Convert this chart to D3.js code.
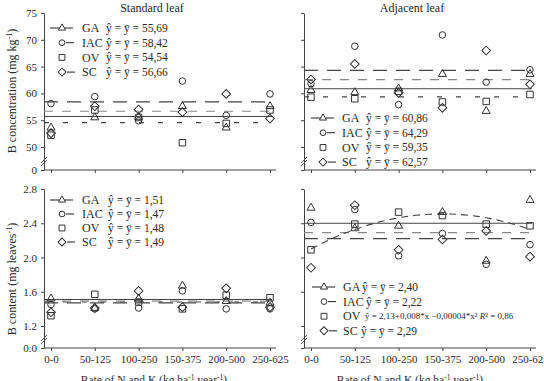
<!DOCTYPE html>
<html>
<head>
<meta charset="utf-8">
<script src="https://cdn.jsdelivr.net/npm/d3@7"></script>
<style>
  body { margin: 0; background: #fff; }
  svg { display: block; font-family: "Liberation Serif", "Times New Roman", serif; }
</style>
</head>
<body>
<div id="chart"></div>
<script>
// Rates of N and K (kg ha-1 year-1)
const categories = ["0-0", "50-125", "100-250", "150-375", "200-500", "250-625"];
const nRates = [0, 50, 100, 150, 200, 250];
const cultivars = ["GA", "IAC", "OV", "SC"];

// B concentration (mg kg-1), standard leaf
const concStdGA  = [53.6, 55.5, 55.6, 57.6, 53.6, 57.6];
const concStdIAC = [58.1, 59.4, 54.9, 62.3, 55.9, 59.9];
const concStdOV  = [52.2, 56.9, 55.5, 50.8, 54.4, 56.9];
const concStdSC  = [52.6, 57.6, 57.0, 56.5, 59.9, 55.3];
const concStdMeans = [55.69, 58.42, 54.54, 56.66];

// B concentration (mg kg-1), adjacent leaf
const concAdjGA  = [60.6, 60.2, 60.9, 63.6, 56.7, 63.6];
const concAdjIAC = [61.8, 68.8, 57.9, 70.9, 62.1, 64.4];
const concAdjOV  = [59.3, 59.0, 60.4, 58.4, 58.5, 59.8];
const concAdjSC  = [62.6, 65.5, 60.1, 57.3, 68.0, 61.7];
const concAdjMeans = [60.86, 64.29, 59.35, 62.57];

// B content (mg leaves-1), standard leaf
const contStdGA  = [1.52, 1.41, 1.52, 1.67, 1.49, 1.47];
const contStdIAC = [1.45, 1.40, 1.41, 1.61, 1.40, 1.40];
const contStdOV  = [1.32, 1.57, 1.48, 1.40, 1.56, 1.53];
const contStdSC  = [1.36, 1.41, 1.61, 1.42, 1.64, 1.42];
const contStdMeans = [1.51, 1.47, 1.48, 1.49];

// B content (mg leaves-1), adjacent leaf (OV follows a quadratic fit)
const contAdjGA  = [2.58, 2.34, 2.37, 2.53, 1.96, 2.67];
const contAdjIAC = [2.41, 2.56, 2.02, 2.28, 1.92, 2.15];
const contAdjOV  = [2.09, 2.39, 2.53, 2.49, 2.39, 2.37];
const contAdjSC  = [1.88, 2.61, 2.09, 2.21, 2.31, 2.01];
const contAdjMeans = [2.40, 2.22, null, 2.29];
const contAdjOVFit = [2.10, 0.00546, -0.0000182]; // a + b*x + c*x^2, as drawn
const contAdjOVText = "ŷ = 2,13+0,008*x −0,00004*x²";

const concTicks = [0, 50, 55, 60, 65, 70, 75];
const contTicks = [0, 1.2, 1.6, 2.0, 2.4, 2.8];

const W = 544, H = 381;
const svg = d3.select("#chart").append("svg")
  .attr("width", W).attr("height", H);
svg.append("rect").attr("width", W).attr("height", H).attr("fill", "#fff");

const ink = "#2a2a2a";
const lineInk = "#444";

// piecewise scales with axis break between 0 and the first labelled tick
const yConc = d3.scaleLinear().domain([0, 50, 75]).range([170, 147, 13]);
const yCont = d3.scaleLinear().domain([0, 1.2, 2.8]).range([348, 326, 189]);

const markers = {
  GA:  d3.symbol().type(d3.symbolTriangle).size(28),
  IAC: d3.symbol().type(d3.symbolCircle).size(34),
  OV:  d3.symbol().type(d3.symbolSquare).size(42),
  SC:  d3.symbol().type(d3.symbolSquare).size(38)
};
const legendMarkers = {
  GA:  d3.symbol().type(d3.symbolTriangle).size(22),
  IAC: d3.symbol().type(d3.symbolCircle).size(26),
  OV:  d3.symbol().type(d3.symbolSquare).size(34),
  SC:  d3.symbol().type(d3.symbolSquare).size(32)
};
const markerRot = { GA: 0, IAC: 0, OV: 0, SC: 45 };
const meanStyle = {
  GA:  { dash: null,   color: "#444" },
  IAC: { dash: "14,9", color: "#444" },
  OV:  { dash: "5,14", color: "#444" },
  SC:  { dash: "9,9",  color: "#888" }
};
// legend sample: line segment relative to marker
const legendLine = { GA: [-12, 11], IAC: [4, 12], OV: null, SC: [5, 13] };

const fmtComma = v => d3.format(".2f")(v).replace(".", ",");

const panels = [
  { title: "Standard leaf", ax0: 44, ax1: 276, y: yConc, ticks: concTicks, fmt: d3.format("d"),
    series: [concStdGA, concStdIAC, concStdOV, concStdSC], means: concStdMeans,
    legend: { mx: 62, y0: 28, dy: 14.7, lx: 82, ex: [106, 106, 106, 106] }, bottom: false },
  { title: "Adjacent leaf", ax0: 304, ax1: 536, y: yConc, ticks: concTicks, fmt: () => "",
    series: [concAdjGA, concAdjIAC, concAdjOV, concAdjSC], means: concAdjMeans,
    legend: { mx: 323, y0: 118, dy: 14.7, lx: 342, ex: [366, 366, 366, 366] }, bottom: false },
  { title: null, ax0: 44, ax1: 276, y: yCont, ticks: contTicks, fmt: d3.format(".1f"),
    series: [contStdGA, contStdIAC, contStdOV, contStdSC], means: contStdMeans,
    legend: { mx: 62, y0: 200, dy: 14, lx: 82, ex: [108, 108, 108, 108] }, bottom: true },
  { title: null, ax0: 304, ax1: 536, y: yCont, ticks: contTicks, fmt: () => "",
    series: [contAdjGA, contAdjIAC, contAdjOV, contAdjSC], means: contAdjMeans,
    fit: contAdjOVFit, fitText: contAdjOVText,
    legend: { mx: 324, y0: 287, dy: 14.6, lx: 343, ex: [362, 366, 365, 361] }, bottom: true }
];

panels.forEach(p => {
  const g = svg.append("g");
  const x = d3.scalePoint().domain(categories).range([p.ax0 + 7, p.ax0 + 226]);
  const yBase = p.y(0);

  // y axis
  const yAxis = g.append("g")
    .attr("transform", `translate(${p.ax0},0)`)
    .call(d3.axisLeft(p.y).tickValues(p.ticks).tickFormat(p.fmt)
      .tickSize(3).tickSizeOuter(0).tickPadding(4));
  yAxis.select(".domain").attr("stroke", lineInk);
  yAxis.selectAll(".tick line").attr("stroke", lineInk);
  yAxis.selectAll(".tick text").attr("fill", ink).style("font-size", "11px")
    .style("font-family", "'Liberation Serif', serif");

  // x axis
  const xAxis = g.append("g")
    .attr("transform", `translate(0,${yBase})`)
    .call(d3.axisBottom(x).tickSize(3).tickSizeOuter(0).tickPadding(4)
      .tickFormat(p.bottom ? (d => d) : () => ""));
  xAxis.select(".domain").attr("d", `M${p.ax0},0H${p.ax1}`).attr("stroke", lineInk);
  xAxis.selectAll(".tick line").attr("stroke", lineInk);
  xAxis.selectAll(".tick text").attr("fill", ink).style("font-size", "11px")
    .style("font-family", "'Liberation Serif', serif");

  // axis break marks
  const by = yBase - 10;
  [0, 3].forEach(o => {
    g.append("line")
      .attr("x1", p.ax0 - 3).attr("y1", by + 3 + o)
      .attr("x2", p.ax0 + 3).attr("y2", by - 3 + o)
      .attr("stroke", lineInk).attr("stroke-width", 0.9);
  });

  if (p.title) {
    g.append("text").attr("x", (p.ax0 + p.ax1) / 2 - 8).attr("y", 12)
      .attr("text-anchor", "middle").attr("fill", ink)
      .style("font-size", "12px").text(p.title);
  }

  // mean lines
  cultivars.forEach((c, i) => {
    if (p.means[i] == null) return;
    g.append("line")
      .attr("x1", p.ax0).attr("x2", p.ax1 - 4)
      .attr("y1", p.y(p.means[i])).attr("y2", p.y(p.means[i]))
      .attr("stroke", meanStyle[c].color).attr("stroke-width", 1.1)
      .attr("stroke-dasharray", meanStyle[c].dash);
  });

  // quadratic fit for OV
  if (p.fit) {
    const xr = d3.scaleLinear().domain([0, 250]).range([x(categories[0]), x(categories[5])]);
    const pts = d3.range(0, 251, 5).map(n => [n, p.fit[0] + p.fit[1] * n + p.fit[2] * n * n]);
    g.append("path")
      .attr("d", d3.line().x(d => xr(d[0])).y(d => p.y(d[1]))(pts))
      .attr("fill", "none").attr("stroke", "#444").attr("stroke-width", 1.1)
      .attr("stroke-dasharray", "7,5");
  }

  // points
  cultivars.forEach((c, i) => {
    g.selectAll(null).data(p.series[i]).enter().append("path")
      .attr("d", markers[c]())
      .attr("transform", (d, j) => `translate(${x(categories[j])},${p.y(d)}) rotate(${markerRot[c]})`)
      .attr("fill", "none").attr("stroke", "#333").attr("stroke-width", 1);
  });

  // legend
  const L = p.legend;
  cultivars.forEach((c, i) => {
    const ly = L.y0 + i * L.dy;
    const seg = legendLine[c];
    if (seg) {
      g.append("line").attr("x1", L.mx + seg[0]).attr("x2", L.mx + seg[1])
        .attr("y1", ly).attr("y2", ly)
        .attr("stroke", "#333").attr("stroke-width", 1.1);
    }
    g.append("path").attr("d", legendMarkers[c]())
      .attr("transform", `translate(${L.mx},${ly}) rotate(${markerRot[c]})`)
      .attr("fill", "#fff").attr("stroke", "#333");
    g.append("text").attr("x", L.lx).attr("y", ly).attr("dy", "0.35em")
      .attr("fill", ink).style("font-size", "12px").text(c);
    const eq = g.append("text").attr("x", L.ex[i]).attr("y", ly).attr("dy", "0.35em")
      .attr("fill", ink);
    if (p.means[i] != null) {
      eq.style("font-size", "11.5px").text(`ŷ = ȳ = ${fmtComma(p.means[i])}`);
    } else {
      eq.style("font-size", "9px");
      eq.append("tspan").text(p.fitText + " ");
      eq.append("tspan").style("font-style", "italic").text("R");
      eq.append("tspan").text("² = 0,86");
    }
  });
});

// axis titles
function yTitle(cx, cy, main, sup) {
  const t = svg.append("text")
    .attr("transform", `translate(${cx},${cy}) rotate(-90)`)
    .attr("text-anchor", "middle").attr("fill", ink).style("font-size", "12px");
  t.append("tspan").text(main);
  t.append("tspan").attr("dy", -4).style("font-size", "8px").text(sup);
  t.append("tspan").attr("dy", 4).text(")");
}
yTitle(16, 91, "B concentration (mg kg", "-1");
yTitle(16, 279, "B content (mg leaves", "-1");

[154, 410].forEach(cx => {
  const t = svg.append("text").attr("x", cx).attr("y", 384)
    .attr("text-anchor", "middle").attr("fill", ink).style("font-size", "11.5px");
  t.append("tspan").text("Rate of N and K (kg ha");
  t.append("tspan").attr("dy", -4).style("font-size", "7.5px").text("-1");
  t.append("tspan").attr("dy", 4).text(" year");
  t.append("tspan").attr("dy", -4).style("font-size", "7.5px").text("-1");
  t.append("tspan").attr("dy", 4).text(")");
});
</script>
</body>
</html>
